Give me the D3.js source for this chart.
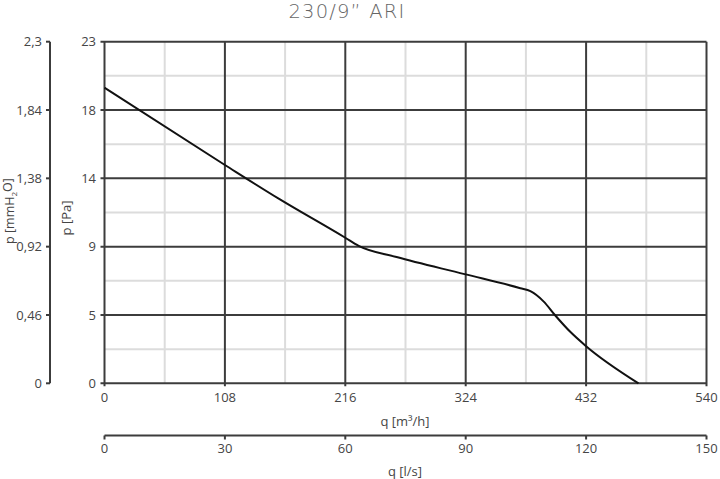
<!DOCTYPE html>
<html>
<head>
<meta charset="utf-8">
<script src="https://cdn.jsdelivr.net/npm/d3@7"></script>
<style>
  body { margin: 0; background: #fff; }
  text { font-family: "Open Sans", sans-serif; fill: #454545; }
</style>
</head>
<body>
<svg id="chart" width="720" height="479"></svg>
<script>
// curve data
var flowM3h = [0, 108, 157, 216, 228, 262, 323, 373, 382, 394, 404, 418, 432, 479];
var pressurePa = [19.9, 14.7, 12.4, 9.8, 9.25, 8.5, 7.35, 6.4, 6.2, 5.5, 4.6, 3.45, 2.5, 0];

// tick labels
var paTicks = [0, 4.6, 9.2, 13.8, 18.4, 23];
var paLabels = ["0", "5", "9", "14", "18", "23"];
var mmTicks = [0, 0.46, 0.92, 1.38, 1.84, 2.3];
var mmLabels = ["0", "0,46", "0,92", "1,38", "1,84", "2,3"];
var m3hTicks = [0, 108, 216, 324, 432, 540];
var lsTicks = [0, 30, 60, 90, 120, 150];

(function () {
  var svg = d3.select("#chart");

  var plotLeft = 104.5, plotRight = 706.5, plotTop = 41.7, plotBottom = 383.3;

  var x = d3.scaleLinear().domain([0, 540]).range([plotLeft, plotRight]);
  var xLs = d3.scaleLinear().domain([0, 150]).range([plotLeft, plotRight]);
  var y = d3.scaleLinear().domain([0, 23]).range([plotBottom, plotTop]);
  var yMm = d3.scaleLinear().domain([0, 2.3]).range([plotBottom, plotTop]);

  var majorColor = "#3c3c3c", minorColor = "#dcdcdc";
  var fs = 13;

  // minor grid (halfway between majors)
  var minorX = d3.range(54, 540, 108);
  var minorY = d3.range(2.3, 23, 4.6);

  svg.append("g").selectAll("line").data(minorX).enter().append("line")
    .attr("x1", function(d){ return x(d); }).attr("x2", function(d){ return x(d); })
    .attr("y1", plotTop).attr("y2", plotBottom)
    .attr("stroke", minorColor).attr("stroke-width", 2);

  svg.append("g").selectAll("line").data(minorY).enter().append("line")
    .attr("y1", function(d){ return y(d); }).attr("y2", function(d){ return y(d); })
    .attr("x1", plotLeft).attr("x2", plotRight)
    .attr("stroke", minorColor).attr("stroke-width", 2);

  // major grid
  svg.append("g").selectAll("line").data(m3hTicks).enter().append("line")
    .attr("x1", function(d){ return x(d); }).attr("x2", function(d){ return x(d); })
    .attr("y1", plotTop).attr("y2", plotBottom + 3)
    .attr("stroke", majorColor).attr("stroke-width", 2);

  svg.append("g").selectAll("line").data(paTicks).enter().append("line")
    .attr("y1", function(d){ return y(d); }).attr("y2", function(d){ return y(d); })
    .attr("x1", plotLeft - 4).attr("x2", plotRight)
    .attr("stroke", majorColor).attr("stroke-width", 2);

  // Pa labels
  svg.append("g").selectAll("text").data(paTicks).enter().append("text")
    .attr("x", 96).attr("y", function(d){ return y(d); })
    .attr("dy", "0.35em").attr("text-anchor", "end")
    .attr("font-size", fs)
    .text(function(d, i){ return paLabels[i]; });

  // mmH2O axis
  svg.append("line").attr("x1", 50).attr("x2", 50)
    .attr("y1", yMm(0)).attr("y2", yMm(2.3))
    .attr("stroke", majorColor).attr("stroke-width", 2);
  svg.append("g").selectAll("line").data(mmTicks).enter().append("line")
    .attr("x1", 46).attr("x2", 50)
    .attr("y1", function(d){ return yMm(d); }).attr("y2", function(d){ return yMm(d); })
    .attr("stroke", majorColor).attr("stroke-width", 2);
  svg.append("g").selectAll("text").data(mmTicks).enter().append("text")
    .attr("x", 42).attr("y", function(d){ return yMm(d); })
    .attr("dy", "0.35em").attr("text-anchor", "end")
    .attr("font-size", fs)
    .text(function(d, i){ return mmLabels[i]; });

  // m3/h labels
  svg.append("g").selectAll("text").data(m3hTicks).enter().append("text")
    .attr("x", function(d){ return x(d); }).attr("y", 397)
    .attr("dy", "0.35em").attr("text-anchor", "middle")
    .attr("font-size", fs)
    .text(function(d){ return d; });

  // l/s axis
  var lsY = 435.5;
  svg.append("line").attr("x1", plotLeft).attr("x2", plotRight)
    .attr("y1", lsY).attr("y2", lsY)
    .attr("stroke", majorColor).attr("stroke-width", 2);
  svg.append("g").selectAll("line").data(lsTicks).enter().append("line")
    .attr("x1", function(d){ return xLs(d); }).attr("x2", function(d){ return xLs(d); })
    .attr("y1", lsY).attr("y2", lsY + 4)
    .attr("stroke", majorColor).attr("stroke-width", 2);
  svg.append("g").selectAll("text").data(lsTicks).enter().append("text")
    .attr("x", function(d){ return xLs(d); }).attr("y", 448)
    .attr("dy", "0.35em").attr("text-anchor", "middle")
    .attr("font-size", fs)
    .text(function(d){ return d; });

  // axis titles
  svg.append("text").attr("x", 405).attr("y", 421.5)
    .attr("dy", "0.35em").attr("text-anchor", "middle").attr("font-size", fs)
    .text("q [m\u00B3/h]");

  svg.append("text").attr("x", 405).attr("y", 471)
    .attr("dy", "0.35em").attr("text-anchor", "middle").attr("font-size", fs)
    .text("q [l/s]");

  svg.append("text").attr("transform", "translate(71,218) rotate(-90)")
    .attr("text-anchor", "middle").attr("font-size", fs)
    .text("p [Pa]");

  var mmTitle = svg.append("text").attr("transform", "translate(14,211) rotate(-90)")
    .attr("text-anchor", "middle").attr("font-size", 12.5);
  mmTitle.append("tspan").text("p [mmH");
  mmTitle.append("tspan").attr("font-size", 8).attr("dy", "0.35em").text("2");
  mmTitle.append("tspan").attr("dy", "-0.35em").text("O]");

  // title
  svg.append("text").attr("x", 347).attr("y", 11)
    .attr("dy", "0.35em").attr("text-anchor", "middle")
    .attr("font-size", 19.5).attr("font-weight", 300)
    .attr("letter-spacing", 1.2)
    .style("font-family", "'DejaVu Sans', sans-serif")
    .style("fill", "#666")
    .text("230/9\u201D ARI");

  // curve
  var line = d3.line()
    .x(function(d){ return x(d[0]); })
    .y(function(d){ return y(d[1]); })
    .curve(d3.curveMonotoneX);

  svg.append("path")
    .datum(d3.zip(flowM3h, pressurePa))
    .attr("d", line)
    .attr("fill", "none")
    .attr("stroke", "#111")
    .attr("stroke-width", 2);
}());
</script>
</body>
</html>
